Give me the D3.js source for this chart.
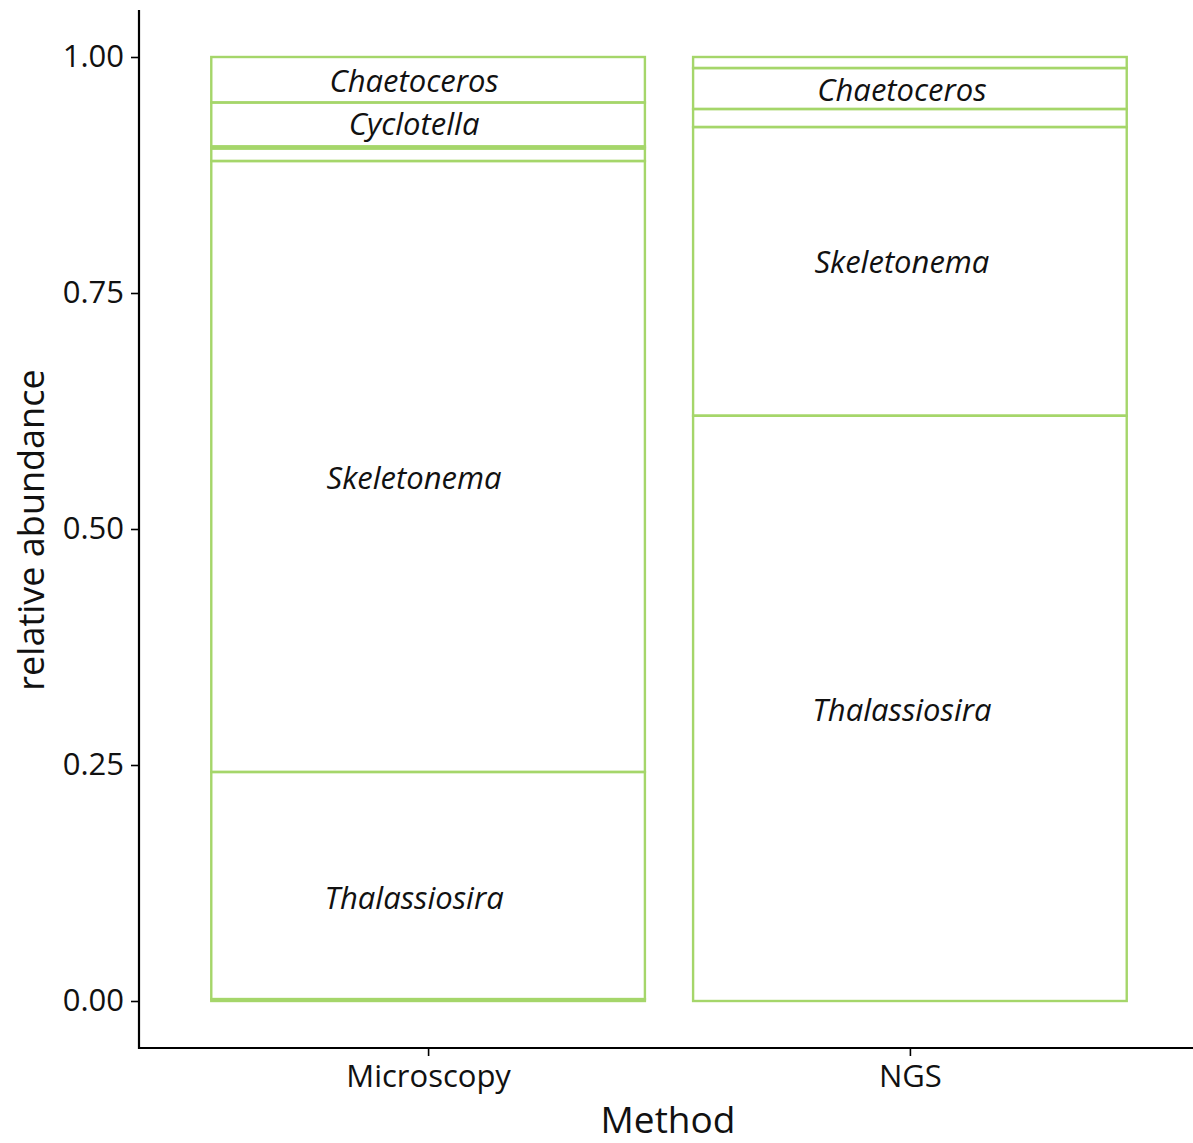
<!DOCTYPE html>
<html><head><meta charset="utf-8">
<script src="https://cdn.jsdelivr.net/npm/d3@7"></script>
<style>body{margin:0;background:#fff}svg{display:block}</style>
</head><body>
<script>
const methods = ["Microscopy", "NGS"];
const taxa = ["Minor A", "Thalassiosira", "Skeletonema", "Minor B", "Minor C", "Cyclotella", "Chaetoceros", "Minor D"];
const microscopyValues = [0.0020, 0.2406, 0.6472, 0.0133, 0.0021, 0.0466, 0.0482, 0.0];
const ngsValues = [0.0, 0.6200, 0.3058, 0.0191, 0.0, 0.0, 0.0434, 0.0117];
const labelledTaxa = ["Chaetoceros", "Cyclotella", "Skeletonema", "Thalassiosira"];
const microscopyLabelY = [0.9746, 0.929, 0.554, 0.109];
const ngsLabelY = [0.965, null, 0.783, 0.308];
const yTicks = [0, 0.25, 0.5, 0.75, 1.0];

const W = 1193, H = 1143;
const m = {left: 139};
const svg = d3.select("body").append("svg").attr("width", W).attr("height", H);
const font = "'Open Sans', 'Noto Sans', sans-serif";

const rows = methods.map((mm, i) => {
  const r = {method: mm};
  const vals = i === 0 ? microscopyValues : ngsValues;
  taxa.forEach((t, j) => r[t] = vals[j]);
  return r;
});
const series = d3.stack().keys(taxa)(rows);

const y = d3.scaleLinear().domain([0, 1]).range([1001, 57]);
const unit = (1199 - m.left) / 2.2;
const xc = d3.scalePoint().domain(methods).range([m.left + 0.6 * unit, m.left + 1.6 * unit]);
const bw = 0.9 * unit;

const green = "#a5d66a";
series.forEach(s => {
  svg.append("g").selectAll("rect").data(s.filter(d => d[1] - d[0] > 0)).join("rect")
    .attr("x", d => xc(d.data.method) - bw / 2)
    .attr("width", bw)
    .attr("y", d => y(d[1]))
    .attr("height", d => y(d[0]) - y(d[1]))
    .attr("fill", "#fff").attr("fill-opacity", 0)
    .attr("stroke", green).attr("stroke-width", 2.4);
});

// labels
methods.forEach((mm, i) => {
  const ly = i === 0 ? microscopyLabelY : ngsLabelY;
  labelledTaxa.forEach((t, j) => {
    if (ly[j] == null) return;
    svg.append("text")
      .attr("x", xc(mm) - (i === 0 ? 14 : 8))
      .attr("y", y(ly[j]))
      .attr("dy", "0.35em")
      .attr("text-anchor", "middle")
      .attr("font-family", font).attr("font-style", "italic")
      .attr("font-size", 31).attr("fill", "#111")
      .text(t);
  });
});

// axes
const yAxis = svg.append("g").attr("transform", `translate(${m.left},0)`)
  .call(d3.axisLeft(y).tickValues(yTicks).tickFormat(d3.format(".2f")).tickSize(8).tickPadding(7));
yAxis.select(".domain").remove();
svg.append("line").attr("x1", m.left).attr("x2", m.left).attr("y1", 10).attr("y2", 1049)
  .attr("stroke", "#000").attr("stroke-width", 2.2);
const xAxis = svg.append("g").attr("transform", `translate(0,1048)`)
  .call(d3.axisBottom(xc).tickSize(8).tickPadding(9));
xAxis.select(".domain").remove();
svg.append("line").attr("x1", m.left - 1).attr("x2", W).attr("y1", 1048).attr("y2", 1048)
  .attr("stroke", "#000").attr("stroke-width", 2.2);
[yAxis, xAxis].forEach(a => {
  a.selectAll(".tick line").attr("stroke", "#000").attr("stroke-width", 1.6);
  a.selectAll(".tick text").attr("font-family", font).attr("font-size", 31).attr("fill", "#111");
});

svg.append("text").attr("x", 668).attr("y", 1133).attr("text-anchor", "middle")
  .attr("font-family", font).attr("font-size", 37).attr("fill", "#111").text("Method");
svg.append("text").attr("transform", `translate(44,530) rotate(-90)`).attr("text-anchor", "middle")
  .attr("font-family", font).attr("font-size", 36).attr("fill", "#111").text("relative abundance");
</script>
</body></html>
